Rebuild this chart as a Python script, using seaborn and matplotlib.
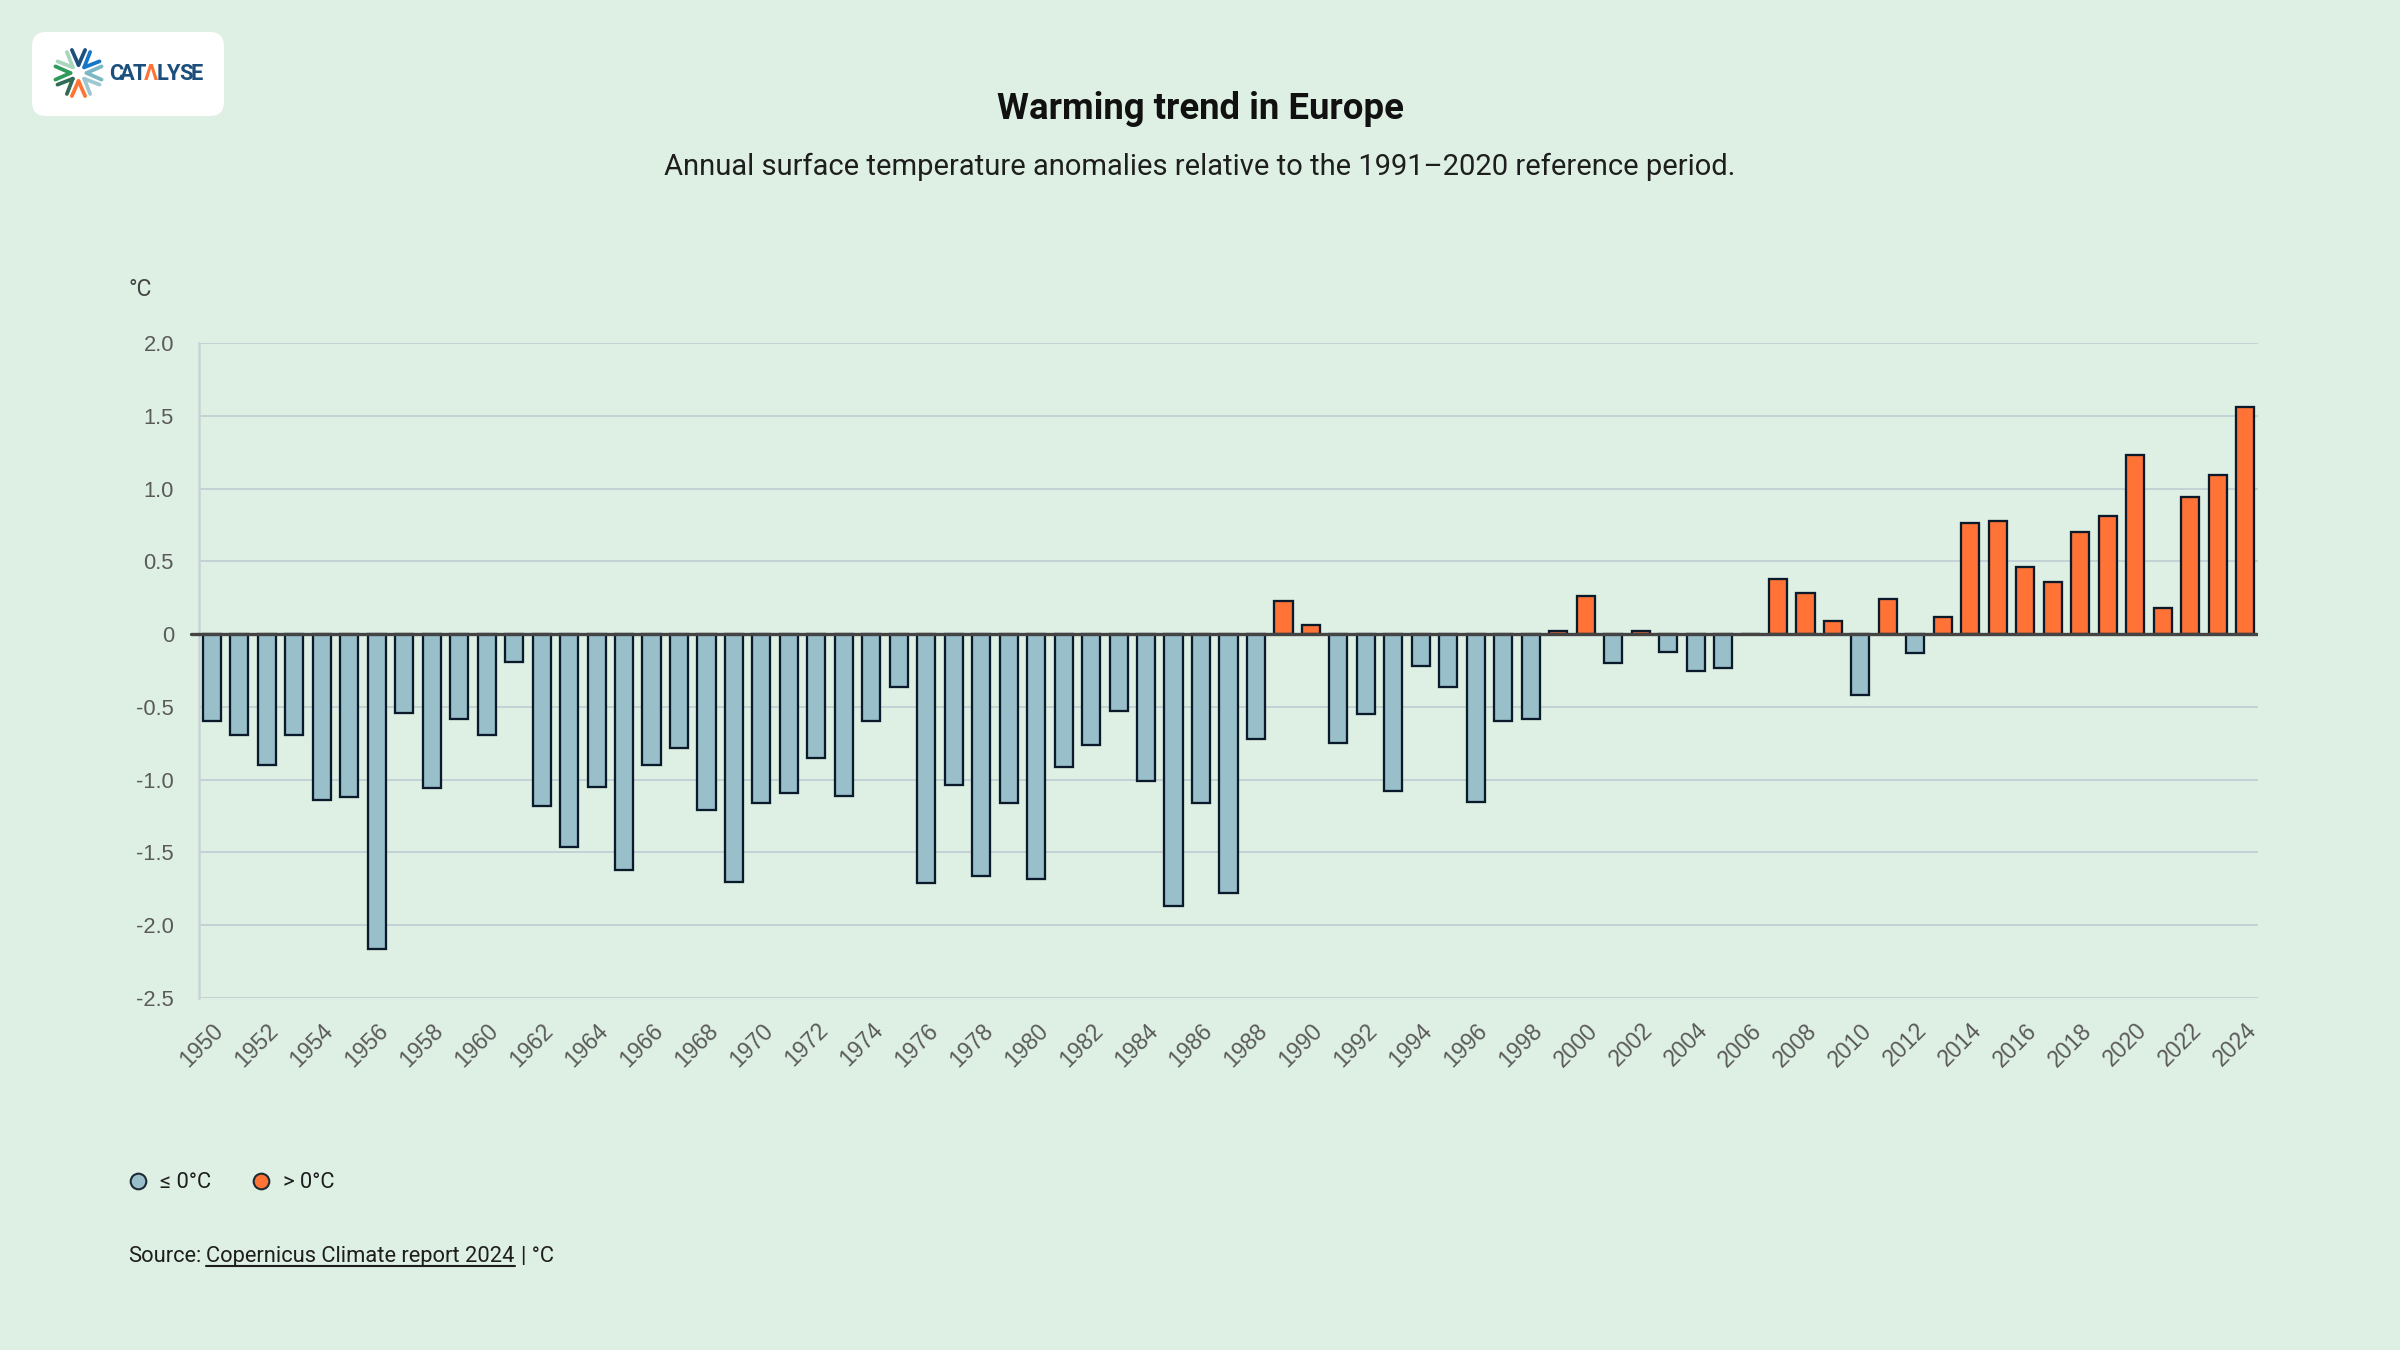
import numpy as np
import pandas as pd
import seaborn as sns
import matplotlib.pyplot as plt
from matplotlib.lines import Line2D
from matplotlib.patches import FancyBboxPatch

# data
years = list(range(1950, 2025))
anomalies = [
    -0.60, -0.69, -0.90, -0.69, -1.14, -1.12, -2.16, -0.54, -1.06, -0.58,   # 1950s
    -0.69, -0.19, -1.18, -1.46, -1.05, -1.62, -0.90, -0.78, -1.21, -1.70,   # 1960s
    -1.16, -1.09, -0.85, -1.11, -0.60, -0.36, -1.71, -1.04, -1.66, -1.16,   # 1970s
    -1.68, -0.91, -0.76, -0.53, -1.01, -1.87, -1.16, -1.78, -0.72, 0.23,    # 1980s
    0.06, -0.75, -0.55, -1.08, -0.22, -0.36, -1.15, -0.60, -0.58, 0.02,     # 1990s
    0.26, -0.20, 0.02, -0.12, -0.25, -0.23, 0.00, 0.38, 0.28, 0.09,         # 2000s
    -0.42, 0.24, -0.13, 0.12, 0.76, 0.78, 0.46, 0.36, 0.70, 0.81,           # 2010s
    1.23, 0.18, 0.94, 1.09, 1.56,                                           # 2020s
]
categories = ["≤ 0°C", "> 0°C"]
yticks = [2.0, 1.5, 1.0, 0.5, 0, -0.5, -1.0, -1.5, -2.0, -2.5]
ytick_labels = ["2.0", "1.5", "1.0", "0.5", "0", "-0.5", "-1.0", "-1.5", "-2.0", "-2.5"]

title = "Warming trend in Europe"
subtitle = "Annual surface temperature anomalies relative to the 1991–2020 reference period."

#colours
BG = "#deefe3"
BLUE = "#99bfca"
ORANGE = "#ff7336"
EDGE = "#0b1a2b"
GRID = "#c3d1d6"

df = pd.DataFrame({"year": years, "anomaly": anomalies})
df["category"] = np.where(df["anomaly"] <= 0, categories[0], categories[1])

sns.set_style("white", rc={"axes.facecolor": BG, "figure.facecolor": BG})
plt.rcParams["font.family"] = ["Roboto", "DejaVu Sans"]

W, H = 2400, 1350
fig = plt.figure(figsize=(16, 9), dpi=150)
ax = fig.add_axes([199 / W, 1 - 998 / H, (2258 - 199) / W, (998 - 343) / H])

sns.barplot(data=df, x="year", y="anomaly", hue="category", hue_order=categories,
            palette={categories[0]: BLUE, categories[1]: ORANGE}, saturation=1,
            dodge=False, width=0.66, edgecolor=EDGE, linewidth=1.1,
            legend=False, ax=ax, zorder=3)

ax.set_xlim(-0.47, len(years) - 0.53)
ax.set_ylim(-2.5, 2.0)
ax.set_yticks(yticks)
ax.set_yticklabels(ytick_labels, family=["Liberation Sans", "DejaVu Sans"], fontsize=10.5, color="#5a5a5a")
ax.set_xticks(range(0, len(years), 2))
ax.set_xticklabels([str(y) for y in years[::2]], rotation=45, ha="right", va="top",
                   rotation_mode="anchor", family=["Liberation Sans", "DejaVu Sans"],
                   fontsize=11, color="#5a5a5a")
ax.tick_params(axis="x", length=0, pad=10)
ax.tick_params(axis="y", length=8, width=0.8, color=GRID, pad=4)
ax.set_xlabel("")
ax.set_ylabel("")

ax.grid(axis="y", color=GRID, linewidth=0.9, zorder=0)
ax.set_axisbelow(True)
for s in ["top", "right", "bottom"]:
    ax.spines[s].set_visible(False)
ax.spines["left"].set_color("#c8d4d4")
ax.spines["left"].set_linewidth(1.2)
ax.axhline(0, color="#444444", linewidth=1.6, zorder=4)
ax.plot([-0.47 - 0.3, -0.47], [0, 0], color="#444444", linewidth=1.6, clip_on=False, zorder=4)

# unit label
fig.text(128 / W, 1 - 289 / H, "°C", fontsize=11, color="#444444", va="center", ha="left")

# titles
fig.text(0.5, 1 - 109 / H, title, fontsize=17.5, fontweight="bold", color="#111111",
         ha="center", va="center")
fig.text(0.5, 1 - 167 / H, subtitle, fontsize=14, color="#1e1e1e", ha="center", va="center")

# legend
handles = [Line2D([], [], marker="o", linestyle="", markersize=7.5, markerfacecolor=BLUE,
                  markeredgecolor="#1e2a33", markeredgewidth=1.0),
           Line2D([], [], marker="o", linestyle="", markersize=7.5, markerfacecolor=ORANGE,
                  markeredgecolor="#1e2a33", markeredgewidth=1.0)]
fig.legend(handles, categories, loc="center left", bbox_to_anchor=(118 / W, 1 - 1183 / H),
           ncol=2, frameon=False, fontsize=10.5, handletextpad=0.5, columnspacing=1.8,
           labelcolor="#1e1e1e", handlelength=1.0, borderaxespad=0)

# source line with underlined link text
renderer = fig.canvas.get_renderer()
sy = 1 - 1262 / H
t1 = fig.text(128 / W, sy, "Source:", fontsize=10.5, color="#1e1e1e", va="baseline")
x1 = t1.get_window_extent(renderer).x1 + 5
t2 = fig.text(x1 / W, sy, "Copernicus Climate report 2024", fontsize=10.5, color="#1e1e1e", va="baseline")
bb2 = t2.get_window_extent(renderer)
t3 = fig.text((bb2.x1 + 6) / W, sy, "| °C", fontsize=10.5, color="#1e1e1e", va="baseline")
uy = sy * H - 4
fig.add_artist(Line2D([bb2.x0 / W, bb2.x1 / W], [uy / H, uy / H], color="#1e1e1e", linewidth=1.0))

# logo
lax = fig.add_axes([32 / W, 1 - 116 / H, 192 / W, 84 / H])
lax.set_xlim(0, 192)
lax.set_ylim(0, 84)
lax.axis("off")
lax.add_patch(FancyBboxPatch((0, 0), 192, 84, boxstyle="round,pad=0,rounding_size=14",
                             facecolor="white", edgecolor="none", clip_on=False))
cx, cy = 46.5, 43
chevron_colors = ["#7bb7c5", "#1577c9", "#1d4f7c", "#a9d5bd", "#2f9a59", "#2f6b55", "#ff7433", "#9fc7cf"]
for i, col in enumerate(chevron_colors):
    ang = np.deg2rad(i * 45)
    r0, r1, spread = 8, 24, np.deg2rad(16)
    ax0, ay0 = cx + r0 * np.cos(ang), cy + r0 * np.sin(ang)
    for sgn in (-1, 1):
        a2 = ang + sgn * spread
        lax.plot([ax0, cx + r1 * np.cos(a2)], [ay0, cy + r1 * np.sin(a2)], color=col,
                 linewidth=1.8, solid_capstyle="round")
letters = "CATΛLYSE"
for i, ch in enumerate(letters):
    lax.text(84 + i * 11.6, 42, ch, fontsize=10.5, fontweight="bold",
             color=ORANGE if i == 3 else "#1d4f7c", ha="center", va="center")

fig.savefig("out.png", dpi=150, facecolor=BG)
